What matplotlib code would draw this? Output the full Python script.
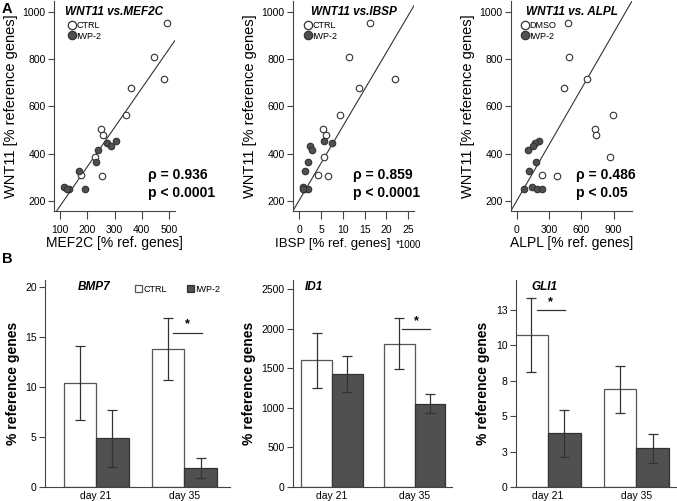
import numpy as np
import matplotlib
matplotlib.use("Agg")
import matplotlib.pyplot as plt
from matplotlib.lines import Line2D

plt.rcParams['font.family'] = ['Liberation Sans', 'DejaVu Sans']

# ---- panel A: WNT11 against three markers (same samples in each plot)
wnt11_ctrl = [954, 809, 715, 679, 566, 505, 479, 388, 309, 307]
wnt11_iwp = [454, 447, 433, 415, 367, 328, 260, 253, 249, 253]

mef2c_ctrl = [494, 446, 482, 359, 341, 252, 256, 227, 178, 254]
mef2c_iwp = [305, 271, 288, 239, 233, 168, 116, 132, 193, 125]
ibsp_ctrl = [16.2, 11.5, 21.9, 13.6, 9.25, 5.4, 6.1, 5.8, 4.4, 6.5]
ibsp_iwp = [5.8, 7.6, 2.4, 3.0, 2.0, 1.45, 1.0, 1.2, 2.0, 0.9]
alpl_ctrl = [478, 487, 655, 444, 897, 732, 739, 866, 233, 376]
alpl_iwp = [205, 174, 152, 109, 180, 115, 143, 68, 192, 233]

# fitted lines as drawn (slope, intercept)
fit_mef2c = (1.66, 13)
fit_ibsp = (31.3, 203)
fit_alpl = (0.789, 201)

rho_vals = ['0.936', '0.859', '0.486']
p_vals = ['p < 0.0001', 'p < 0.0001', 'p < 0.05']

# ---- panel B: expression at day 21 / day 35
days = ['day 21', 'day 35']
bmp7_ctrl, bmp7_ctrl_sd = [10.4, 13.8], [3.7, 3.1]
bmp7_iwp, bmp7_iwp_sd = [4.9, 1.9], [2.85, 1.0]
id1_ctrl, id1_ctrl_sd = [1600, 1810], [350, 325]
id1_iwp, id1_iwp_sd = [1430, 1050], [225, 120]
gli1_ctrl, gli1_ctrl_sd = [10.7, 6.9], [2.6, 1.67]
gli1_iwp, gli1_iwp_sd = [3.78, 2.72], [1.67, 1.04]

DARK = '#505050'
EDGE = '#333333'
SPINE = '#444444'

fig = plt.figure(figsize=(6.77, 5.01), dpi=100)


def style_axes(ax):
    for s in ['top', 'right']:
        ax.spines[s].set_visible(False)
    for s in ['left', 'bottom']:
        ax.spines[s].set_color(SPINE)
        ax.spines[s].set_linewidth(0.8)
    ax.tick_params(direction='out', length=4, width=0.8, color=SPINE,
                   labelsize=7.5, pad=2)


def scatter_panel(rect, xc, xi, fit, xlim, xticks, title, xlab, rho, p,
                  leg_labels, leg_x, txt_x):
    ax = fig.add_axes(rect)
    style_axes(ax)
    ax.tick_params(axis='x', length=6, pad=4)
    ax.scatter(xc, wnt11_ctrl, s=22, facecolor='white', edgecolor=EDGE,
               linewidth=0.8, zorder=3)
    ax.scatter(xi, wnt11_iwp, s=22, facecolor=DARK, edgecolor=EDGE,
               linewidth=0.8, zorder=3)
    xx = np.array(xlim)
    ax.plot(xx, fit[0] * xx + fit[1], color=EDGE, lw=0.8, zorder=2)
    ax.set_xlim(xlim)
    ax.set_ylim(158, 1046)
    ax.set_xticks(xticks)
    ax.set_yticks([200, 400, 600, 800, 1000])
    ax.set_ylabel('WNT11 [% reference genes]', fontsize=10.5, labelpad=3)
    if xlab:
        ax.set_xlabel(xlab, fontsize=10, labelpad=1)
    ax.text(0.5, 0.95, title, transform=ax.transAxes, ha='center',
            va='center', fontsize=8.5, fontweight='bold', style='italic')
    ax.text(txt_x, 0.17, '\u03c1 = ' + rho, transform=ax.transAxes,
            ha='left', va='center', fontsize=10, fontweight='bold')
    ax.text(txt_x, 0.085, p, transform=ax.transAxes, ha='left',
            va='center', fontsize=10, fontweight='bold')
    handles = [Line2D([], [], ls='', marker='o', ms=6, mfc='white',
                      mec=EDGE, mew=0.9),
               Line2D([], [], ls='', marker='o', ms=6, mfc=DARK,
                      mec=EDGE, mew=0.9)]
    ax.legend(handles, leg_labels, loc='upper left',
              bbox_to_anchor=(leg_x, 0.925), frameon=False, fontsize=6.5,
              handletextpad=0.0, labelspacing=0.15, borderpad=0,
              handlelength=1.0)
    return ax


ytop, htop = 0.5788, 0.4192
scatter_panel([0.0798, ytop, 0.1787, htop], mef2c_ctrl, mef2c_iwp,
              fit_mef2c, (78, 522), [100, 200, 300, 400, 500],
              'WNT11 vs.MEF2C', 'MEF2C [% ref. genes]', rho_vals[0],
              p_vals[0], ['CTRL', 'IWP-2'], 0.07, 0.78)
ax2 = scatter_panel([0.4328, ytop, 0.1787, htop], ibsp_ctrl, ibsp_iwp,
                    fit_ibsp, (-1.4, 26.3), [0, 5, 10, 15, 20, 25],
                    'WNT11 vs.IBSP', None, rho_vals[1], p_vals[1],
                    ['CTRL', 'IWP-2'], 0.05, 0.50)
ax2.text(0.33, -0.158, 'IBSP [% ref. genes]', transform=ax2.transAxes,
         ha='center', va='center', fontsize=9.5)
ax2.text(0.85, -0.162, '*1000', transform=ax2.transAxes, ha='left',
         va='center', fontsize=7)
scatter_panel([0.7548, ytop, 0.1787, htop], alpl_ctrl, alpl_iwp,
              fit_alpl, (-53, 1071), [0, 300, 600, 900],
              'WNT11 vs. ALPL', 'ALPL [% ref. genes]', rho_vals[2],
              p_vals[2], ['DMSO', 'IWP-2'], 0.04, 0.54)


def bar_panel(rect, ctrl, ctrl_sd, iwp, iwp_sd, xlim, ylim, yticks,
              yticklabels, gene, gene_x, sig_x, sig_y, legend=False):
    ax = fig.add_axes(rect)
    style_axes(ax)
    x = np.arange(len(days))
    w = 0.37
    ekw = dict(ecolor=EDGE, elinewidth=0.9, capsize=3.5, capthick=0.9)
    ax.bar(x - w / 2, ctrl, w, yerr=ctrl_sd, color='white',
           edgecolor='#555555', linewidth=0.9, error_kw=ekw, label='CTRL')
    ax.bar(x + w / 2, iwp, w, yerr=iwp_sd, color=DARK,
           edgecolor=EDGE, linewidth=0.9, error_kw=ekw, label='IWP-2')
    ax.set_xlim(xlim)
    ax.set_ylim(ylim)
    ax.set_xticks(x)
    ax.set_xticklabels(days)
    ax.tick_params(axis='x', length=0, pad=3)
    ax.set_yticks(yticks)
    ax.set_yticklabels(yticklabels)
    ax.set_ylabel('% reference genes', fontsize=10, fontweight='bold',
                  labelpad=4)
    ax.text(gene_x, 0.965, gene, transform=ax.transAxes, ha='center',
            va='center', fontsize=8.5, fontweight='bold', style='italic')
    ax.plot(sig_x, [sig_y, sig_y], color=EDGE, lw=0.9)
    ax.annotate('*', (np.mean(sig_x), sig_y), xytext=(0, 1.5),
                textcoords='offset points', ha='center', va='bottom',
                fontsize=9, fontweight='bold')
    if legend:
        ax.legend(loc='upper left', bbox_to_anchor=(0.46, 1.0), ncol=2,
                  frameon=False, fontsize=6.5, handlelength=0.8,
                  handleheight=0.8, handletextpad=0.15, columnspacing=2.2,
                  borderpad=0)
    return ax


ybot, hbot = 0.0279, 0.4132
bar_panel([0.0665, ybot, 0.2733, hbot], bmp7_ctrl, bmp7_ctrl_sd,
          bmp7_iwp, bmp7_iwp_sd, (-0.58, 1.52), (0, 20.7),
          [0, 5, 10, 15, 20], ['0', '5', '10', '15', '20'], 'BMP7', 0.265,
          [0.875, 1.2], 15.45, legend=True)
bar_panel([0.4328, ybot, 0.2349, hbot], id1_ctrl, id1_ctrl_sd,
          id1_iwp, id1_iwp_sd, (-0.47, 1.45), (0, 2614),
          [0, 500, 1000, 1500, 2000, 2500],
          ['0', '500', '1000', '1500', '2000', '2500'], 'ID1', 0.13,
          [0.84, 1.19], 1995)
bar_panel([0.7622, ybot, 0.2363, hbot], gli1_ctrl, gli1_ctrl_sd,
          gli1_iwp, gli1_iwp_sd, (-0.36, 1.45), (0, 14.6),
          [0, 2.5, 5, 7.5, 10, 12.5], ['0', '3', '5', '8', '10', '13'],
          'GLI1', 0.18, [-0.125, 0.19], 12.45)

fig.text(0.003, 0.997, 'A', fontsize=10.5, fontweight='bold', va='top')
fig.text(0.003, 0.497, 'B', fontsize=10.5, fontweight='bold', va='top')

fig.savefig('out.png', dpi=100)
